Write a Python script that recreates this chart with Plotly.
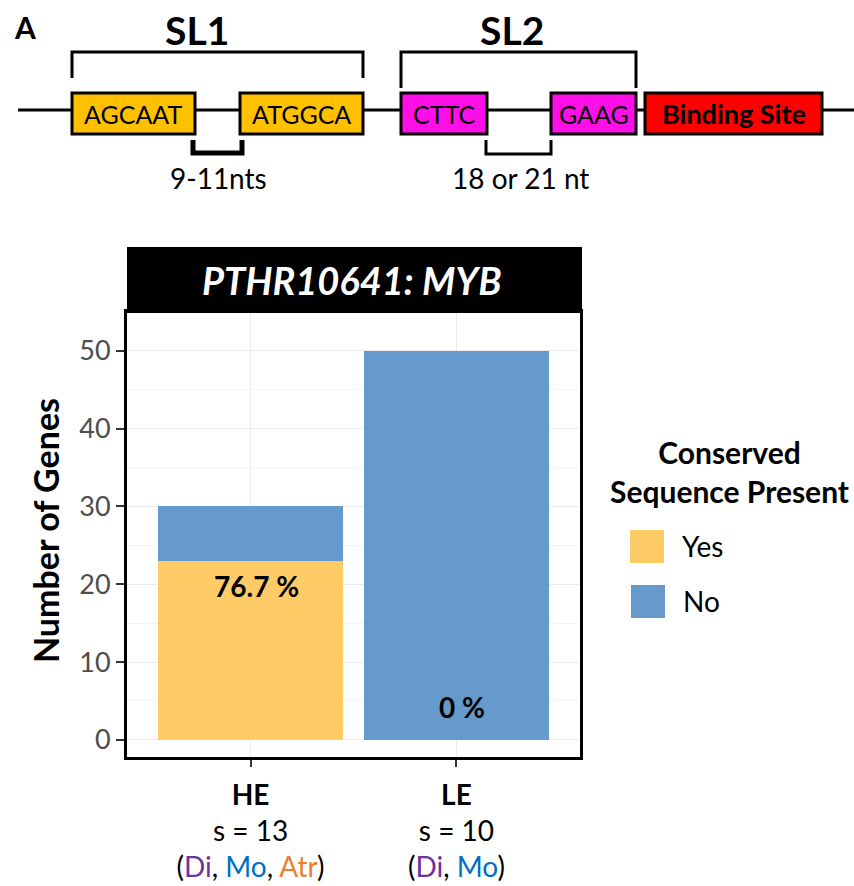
import plotly.graph_objects as go

# ---- data -------------------------------------------------------------
groups = ["HE", "LE"]
sample_sizes = [13, 10]
species = [["Di", "Mo", "Atr"], ["Di", "Mo"]]
yes_counts = [23, 0]
no_counts = [7, 50]
y_ticks = [0, 10, 20, 30, 40, 50]
legend_labels = ["Yes", "No"]

# ---- styling ------------------------------------------------------------
W, H = 854, 886
FONT = "Lato"
YES_COLOR = "#FFCB66"
NO_COLOR = "#6699CC"
SPECIES_COLORS = {"Di": "#7030A0", "Mo": "#0070C0", "Atr": "#ED7D31"}


def px(x):
    return x / W


def py(y):
    return 1 - y / H


def note(x, y, text, size, color="black", xanchor="center", **kw):
    """Text placed in page pixel coordinates."""
    return dict(x=px(x), y=py(y), xref="paper", yref="paper", text=text,
                showarrow=False, xanchor=xanchor, yanchor="middle",
                font=dict(family=FONT, size=size, color=color), **kw)


def tick_text(name, n, sp):
    coloured = ", ".join(
        f"<span style='color:{SPECIES_COLORS[s]}'>{s}</span>" for s in sp
    )
    return f"<b>{name}</b><br>s = {n}<br>({coloured})"


xpos = list(range(len(groups)))

fig = go.Figure()
fig.add_trace(go.Bar(x=xpos, y=yes_counts, width=0.9, marker_color=YES_COLOR,
                     marker_line_width=0, name=legend_labels[0]))
fig.add_trace(go.Bar(x=xpos, y=no_counts, width=0.9, marker_color=NO_COLOR,
                     marker_line_width=0, name=legend_labels[1]))

annotations = []
shapes = []

# percentage labels
for i, (yv, nv) in enumerate(zip(yes_counts, no_counts)):
    pct = 100 * yv / (yv + nv)
    label = f"{pct:.1f} %" if yv > 0 else "0 %"
    common = dict(xref="x", yref="y", text=f"<b>{label}</b>", showarrow=False,
                  xanchor="center", xshift=6,
                  font=dict(family=FONT, size=28, color="black"))
    if yv > 0:
        annotations.append(dict(x=i, y=yv, yanchor="top", yshift=-6, **common))
    else:
        annotations.append(dict(x=i, y=0, yanchor="bottom", yshift=14, **common))

# title banner
shapes.append(dict(type="rect", xref="paper", yref="paper",
                   x0=px(127), x1=px(582), y0=py(313), y1=py(247),
                   fillcolor="black", line=dict(width=0), layer="above"))
annotations.append(note(352, 280, "<b><i>PTHR10641: MYB</i></b>", 38, "white"))

# y-axis title
annotations.append(note(45, 531, "<b>Number of Genes</b>", 34, textangle=-90))

# legend
annotations.append(note(729, 472, "<b>Conserved<br>Sequence Present</b>", 30))
for (lab, col, y0, x0) in [(legend_labels[0], YES_COLOR, 530, 630),
                           (legend_labels[1], NO_COLOR, 585, 631)]:
    shapes.append(dict(type="rect", xref="paper", yref="paper",
                       x0=px(x0), x1=px(x0 + 34), y0=py(y0 + 33), y1=py(y0),
                       fillcolor=col, line=dict(width=0)))
    annotations.append(note(x0 + 50, y0 + 16, lab, 28, xanchor="left"))

# ---- sequence motif diagram ---------------------------------------------
line_y = 110
shapes.append(dict(type="line", xref="paper", yref="paper",
                   x0=px(18), x1=px(854), y0=py(line_y), y1=py(line_y),
                   line=dict(color="black", width=3)))
boxes = [
    ("AGCAAT", 72, 195, "#FFC000", False),
    ("ATGGCA", 240, 363, "#FFC000", False),
    ("CTTC", 401, 487, "#FF0FE8", False),
    ("GAAG", 551, 636, "#FF0FE8", False),
    ("Binding Site", 645, 822, "#FF0000", True),
]
for text, x0, x1, col, bold in boxes:
    shapes.append(dict(type="rect", xref="paper", yref="paper",
                       x0=px(x0), x1=px(x1), y0=py(134), y1=py(93),
                       fillcolor=col, line=dict(color="black", width=3)))
    annotations.append(note((x0 + x1) / 2, 114, f"<b>{text}</b>" if bold else text,
                            27 if bold else 25))

# brackets: (x_left, y_left_end, y_bar, x_right, y_right_end, width)
brackets = [
    (72, 78, 52, 363, 78, 3),
    (401, 88, 52, 636, 88, 3),
    (193, 140, 153, 242, 140, 5),
    (486, 140, 154, 551, 140, 3),
]
for a, b, c, d, e, w in brackets:
    path = f"M {px(a)},{py(b)} V {py(c)} H {px(d)} V {py(e)}"
    shapes.append(dict(type="path", xref="paper", yref="paper", path=path,
                       line=dict(color="black", width=w)))

for text, x, y, size, bold in [("SL1", 197, 30, 39, True), ("SL2", 512, 30, 39, True),
                               ("A", 25, 27, 30, True),
                               ("9-11nts", 218, 178, 28, False),
                               ("18 or 21 nt", 520, 178, 28, False)]:
    annotations.append(note(x, y, f"<b>{text}</b>" if bold else text, size))

fig.update_layout(
    width=W, height=H, margin=dict(l=0, r=0, t=0, b=0),
    barmode="stack", bargap=0.1, showlegend=False,
    paper_bgcolor="white", plot_bgcolor="white",
    font=dict(family=FONT, color="black"),
    shapes=shapes, annotations=annotations,
)
fig.update_xaxes(
    domain=[px(127), px(580)], range=[-0.6, 1.6],
    tickvals=xpos,
    ticktext=[tick_text(g, n, s) for g, n, s in zip(groups, sample_sizes, species)],
    tickfont=dict(family=FONT, size=28, color="black"),
    ticks="outside", ticklen=7, tickwidth=1.5, tickcolor="#333333",
    ticklabelstandoff=4,
    showgrid=True, gridcolor="#EBEBEB", gridwidth=1,
    showline=True, linecolor="black", linewidth=3, mirror=True,
    zeroline=False, fixedrange=True,
)
fig.update_yaxes(
    domain=[py(757), py(312)], range=[-2.2, 55.0],
    tickvals=y_ticks, tickfont=dict(family=FONT, size=27, color="#4D4D4D"),
    ticks="outside", ticklen=8, tickwidth=1.5, tickcolor="#333333",
    showgrid=True, gridcolor="#EBEBEB", gridwidth=1,
    minor=dict(dtick=5, showgrid=True, gridcolor="#F4F4F4", gridwidth=1, tick0=5),
    showline=True, linecolor="black", linewidth=3, mirror=True,
    zeroline=False, fixedrange=True,
)

fig.write_html("out.html")
